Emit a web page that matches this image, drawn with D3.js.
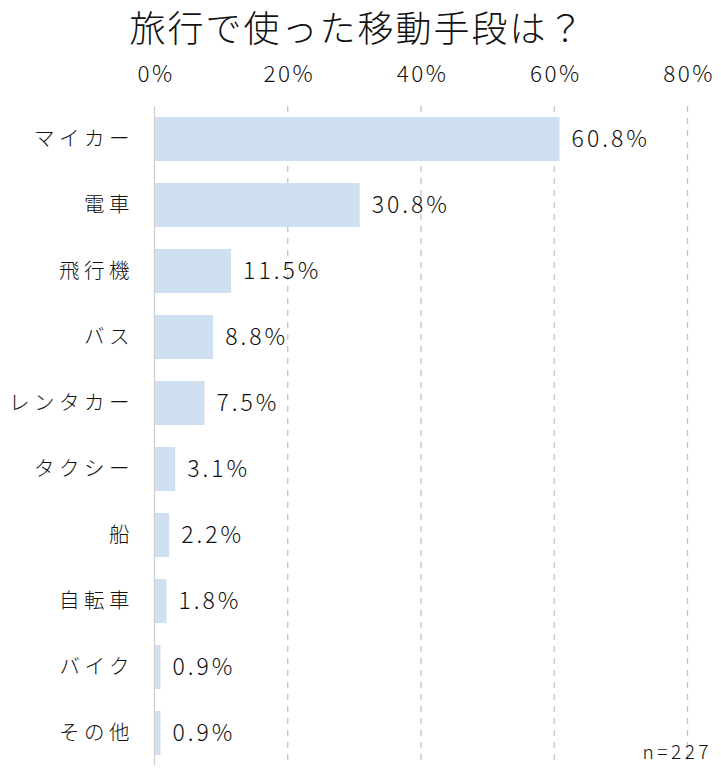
<!DOCTYPE html>
<html><head><meta charset="utf-8">
<script src="https://cdn.jsdelivr.net/npm/d3@7"></script>
<style>body{margin:0;background:#fff}text{font-family:"Noto Sans CJK JP","Noto Sans",sans-serif;fill:#111;font-weight:300}</style>
</head><body>
<svg id="c" width="721" height="780"></svg>
<script>
const categories = ["マイカー","電車","飛行機","バス","レンタカー","タクシー","船","自転車","バイク","その他"];
const values = [60.8,30.8,11.5,8.8,7.5,3.1,2.2,1.8,0.9,0.9];
const tickValues = [0,20,40,60,80];
const title = "旅行で使った移動手段は？";
const note = "n=227";

const svg = d3.select("#c");
const x = d3.scaleLinear().domain([0,80]).range([154.5,687.5]);
const y = d3.scaleBand().domain(categories).range([106,766]).paddingInner(1/3).paddingOuter(1/6);

svg.append("text").attr("x",357.5).attr("y",42).attr("text-anchor","middle")
  .attr("font-size",36).attr("letter-spacing",2).text(title);

// grid
svg.append("g").selectAll("line").data(tickValues.slice(1)).join("line")
  .attr("x1",d=>x(d)).attr("x2",d=>x(d)).attr("y1",106).attr("y2",765)
  .attr("stroke","#c4c4c4").attr("stroke-width",1.3).attr("stroke-dasharray","6,6");

const ax = d3.axisTop(x).tickValues(tickValues).tickFormat(d=>d+"%").tickSize(0);
const ag = svg.append("g").attr("transform","translate(1,85)").call(ax);
ag.select(".domain").remove();
ag.selectAll("text").attr("font-size",22.5).attr("letter-spacing",2.5).attr("fill","#111").attr("dy",0)
  .style("font-family",'"Noto Sans CJK JP","Noto Sans",sans-serif').style("font-weight",300);

svg.append("g").selectAll("rect").data(values).join("rect")
  .attr("x",x(0)).attr("y",(d,i)=>y(categories[i])).attr("height",y.bandwidth())
  .attr("width",d=>x(d)-x(0)).attr("fill","#cfe0f1");

svg.append("line").attr("x1",x(0)).attr("x2",x(0)).attr("y1",106).attr("y2",765)
  .attr("stroke","#d0d0d0").attr("stroke-width",1.3);

svg.append("g").selectAll("text").data(values).join("text")
  .attr("x",d=>x(d)+12).attr("y",(d,i)=>y(categories[i])+y.bandwidth()/2)
  .attr("dy","0.36em").attr("font-size",23).attr("letter-spacing",3)
  .text(d=>d.toFixed(1)+"%");

svg.append("g").selectAll("text").data(categories).join("text")
  .attr("x",134).attr("y",d=>y(d)+y.bandwidth()/2).attr("dy","0.36em")
  .attr("text-anchor","end").attr("font-size",20.5).attr("letter-spacing",4.5)
  .text(d=>d);

svg.append("text").attr("x",712).attr("y",759).attr("text-anchor","end")
  .attr("font-size",19).attr("letter-spacing",3.5).text(note);
</script>
</body></html>
